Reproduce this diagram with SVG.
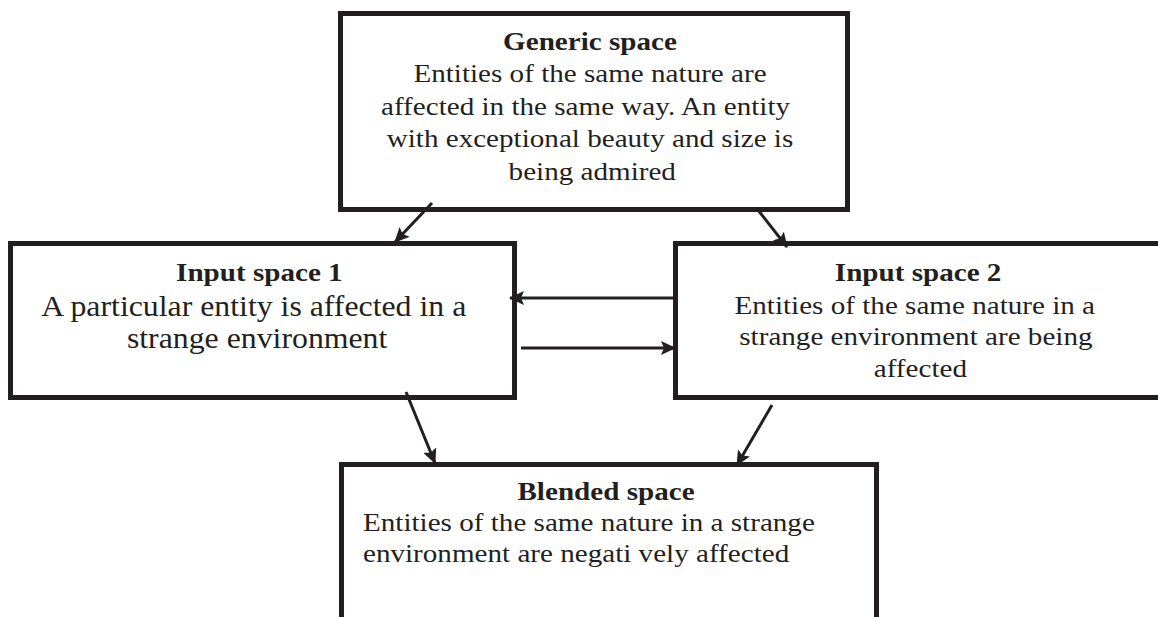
<svg xmlns="http://www.w3.org/2000/svg" width="1158" height="617" viewBox="0 0 1158 617">
  <style>
    .box { fill: #ffffff; stroke: #231f20; stroke-width: 5; }
    .conn { stroke: #231f20; stroke-width: 3; fill: none; marker-end: url(#head); }
    text { font-family: "Liberation Serif", "Times New Roman", serif; fill: #231f20; font-size: 26px; }
    .title { font-weight: bold; }
    .mid { text-anchor: middle; }
    .big { font-size: 28.4px; }
  </style>
  <defs>
    <marker id="head" markerUnits="userSpaceOnUse" markerWidth="16" markerHeight="14" viewBox="0 0 16 14" refX="14" refY="7" orient="auto">
      <path d="M0,0 L15,7 L0,14 L3,7 z" fill="#231f20"/>
    </marker>
  </defs>
  <rect width="1158" height="617" fill="#ffffff"/>

  <g id="generic-space">
    <rect class="box" x="340.5" y="13.5" width="507" height="196"/>
    <g transform="translate(590,0) scale(1.12,1)">
      <text class="title mid" x="0" y="50">Generic space</text>
      <text class="mid" x="0" y="82.5">Entities of the same nature are</text>
      <text class="mid" x="-4" y="115">affected in the same way. An entity</text>
      <text class="mid" x="0" y="147.5">with exceptional beauty and size is</text>
      <text class="mid" x="2" y="180">being admired</text>
    </g>
  </g>

  <g id="input-space-1">
    <rect class="box" x="10.5" y="243.5" width="504" height="154"/>
    <g transform="translate(256,0) scale(1.12,1)">
      <text class="title mid" x="3" y="281">Input space 1</text>
      <text class="mid big" x="-2" y="316">A particular entity is affected in a</text>
      <text class="mid big" x="1" y="348">strange environment</text>
    </g>
  </g>

  <g id="input-space-2">
    <rect class="box" x="675.5" y="243.5" width="520" height="154"/>
    <g transform="translate(917,0) scale(1.12,1)">
      <text class="title mid" x="1" y="281">Input space 2</text>
      <text class="mid" x="-2" y="314">Entities of the same nature in a</text>
      <text class="mid" x="-1" y="345.5">strange environment are being</text>
      <text class="mid" x="3" y="377">affected</text>
    </g>
  </g>

  <g id="blended-space">
    <rect class="box" x="341.5" y="464.5" width="535" height="200"/>
    <g transform="translate(606,0) scale(1.12,1)">
      <text class="title mid" x="0" y="500">Blended space</text>
    </g>
    <g transform="translate(363,0) scale(1.12,1)">
      <text x="0" y="531">Entities of the same nature in a strange</text>
      <text x="0" y="562">environment are negati vely affected</text>
    </g>
  </g>

  <g id="connectors">
    <line class="conn" x1="432" y1="203" x2="395" y2="242"/>
    <line class="conn" x1="758" y1="210" x2="787" y2="247"/>
    <line class="conn" x1="674" y1="298" x2="510" y2="298"/>
    <line class="conn" x1="521" y1="348" x2="675" y2="348"/>
    <line class="conn" x1="406" y1="392" x2="435" y2="463"/>
    <line class="conn" x1="772" y1="405" x2="737" y2="465"/>
  </g>
</svg>
